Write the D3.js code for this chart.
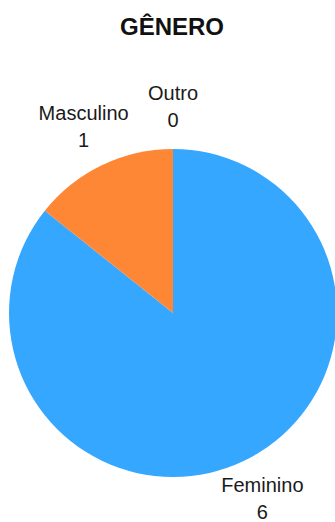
<!DOCTYPE html>
<html>
<head>
<meta charset="utf-8">
<title>Gênero</title>
<script src="https://cdn.jsdelivr.net/npm/d3@7/dist/d3.min.js"></script>
<style>
  html, body { margin: 0; padding: 0; background: #fff; }
  svg { display: block; font-family: "Liberation Sans", Arial, sans-serif; }
</style>
</head>
<body>
<svg id="chart" width="335" height="522"></svg>
<script>
// dados do gráfico
const categories = ["Feminino", "Masculino", "Outro"];
const values = [6, 1, 0];
const colors = ["#36a7ff", "#fe8736", "#4bc0c0"];

const svg = d3.select("#chart");
const cx = 173, cy = 313, radius = 164;

svg.append("text")
  .attr("x", 172)
  .attr("y", 35)
  .attr("text-anchor", "middle")
  .style("font-size", "24px")
  .style("font-weight", "bold")
  .attr("fill", "#111")
  .text("GÊNERO");

const data = categories.map((c, i) => ({ name: c, value: values[i], color: colors[i] }));

const pie = d3.pie().sort(null).value(d => d.value);
const arcs = pie(data);
const arc = d3.arc().innerRadius(0).outerRadius(radius);
const labelArc = d3.arc().innerRadius(206).outerRadius(206);

const g = svg.append("g").attr("transform", `translate(${cx},${cy})`);

g.selectAll("path")
  .data(arcs)
  .join("path")
  .attr("d", arc)
  .attr("fill", d => d.data.color);

const labels = g.selectAll("g.lbl")
  .data(arcs)
  .join("g")
  .attr("class", "lbl")
  .attr("transform", d => `translate(${labelArc.centroid(d)})`);

labels.append("text")
  .attr("text-anchor", "middle")
  .attr("y", -7)
  .style("font-size", "20px")
  .attr("fill", "#1a1a1a")
  .text(d => d.data.name);

labels.append("text")
  .attr("text-anchor", "middle")
  .attr("y", 20)
  .style("font-size", "20px")
  .attr("fill", "#1a1a1a")
  .text(d => d.data.value);
</script>
</body>
</html>
